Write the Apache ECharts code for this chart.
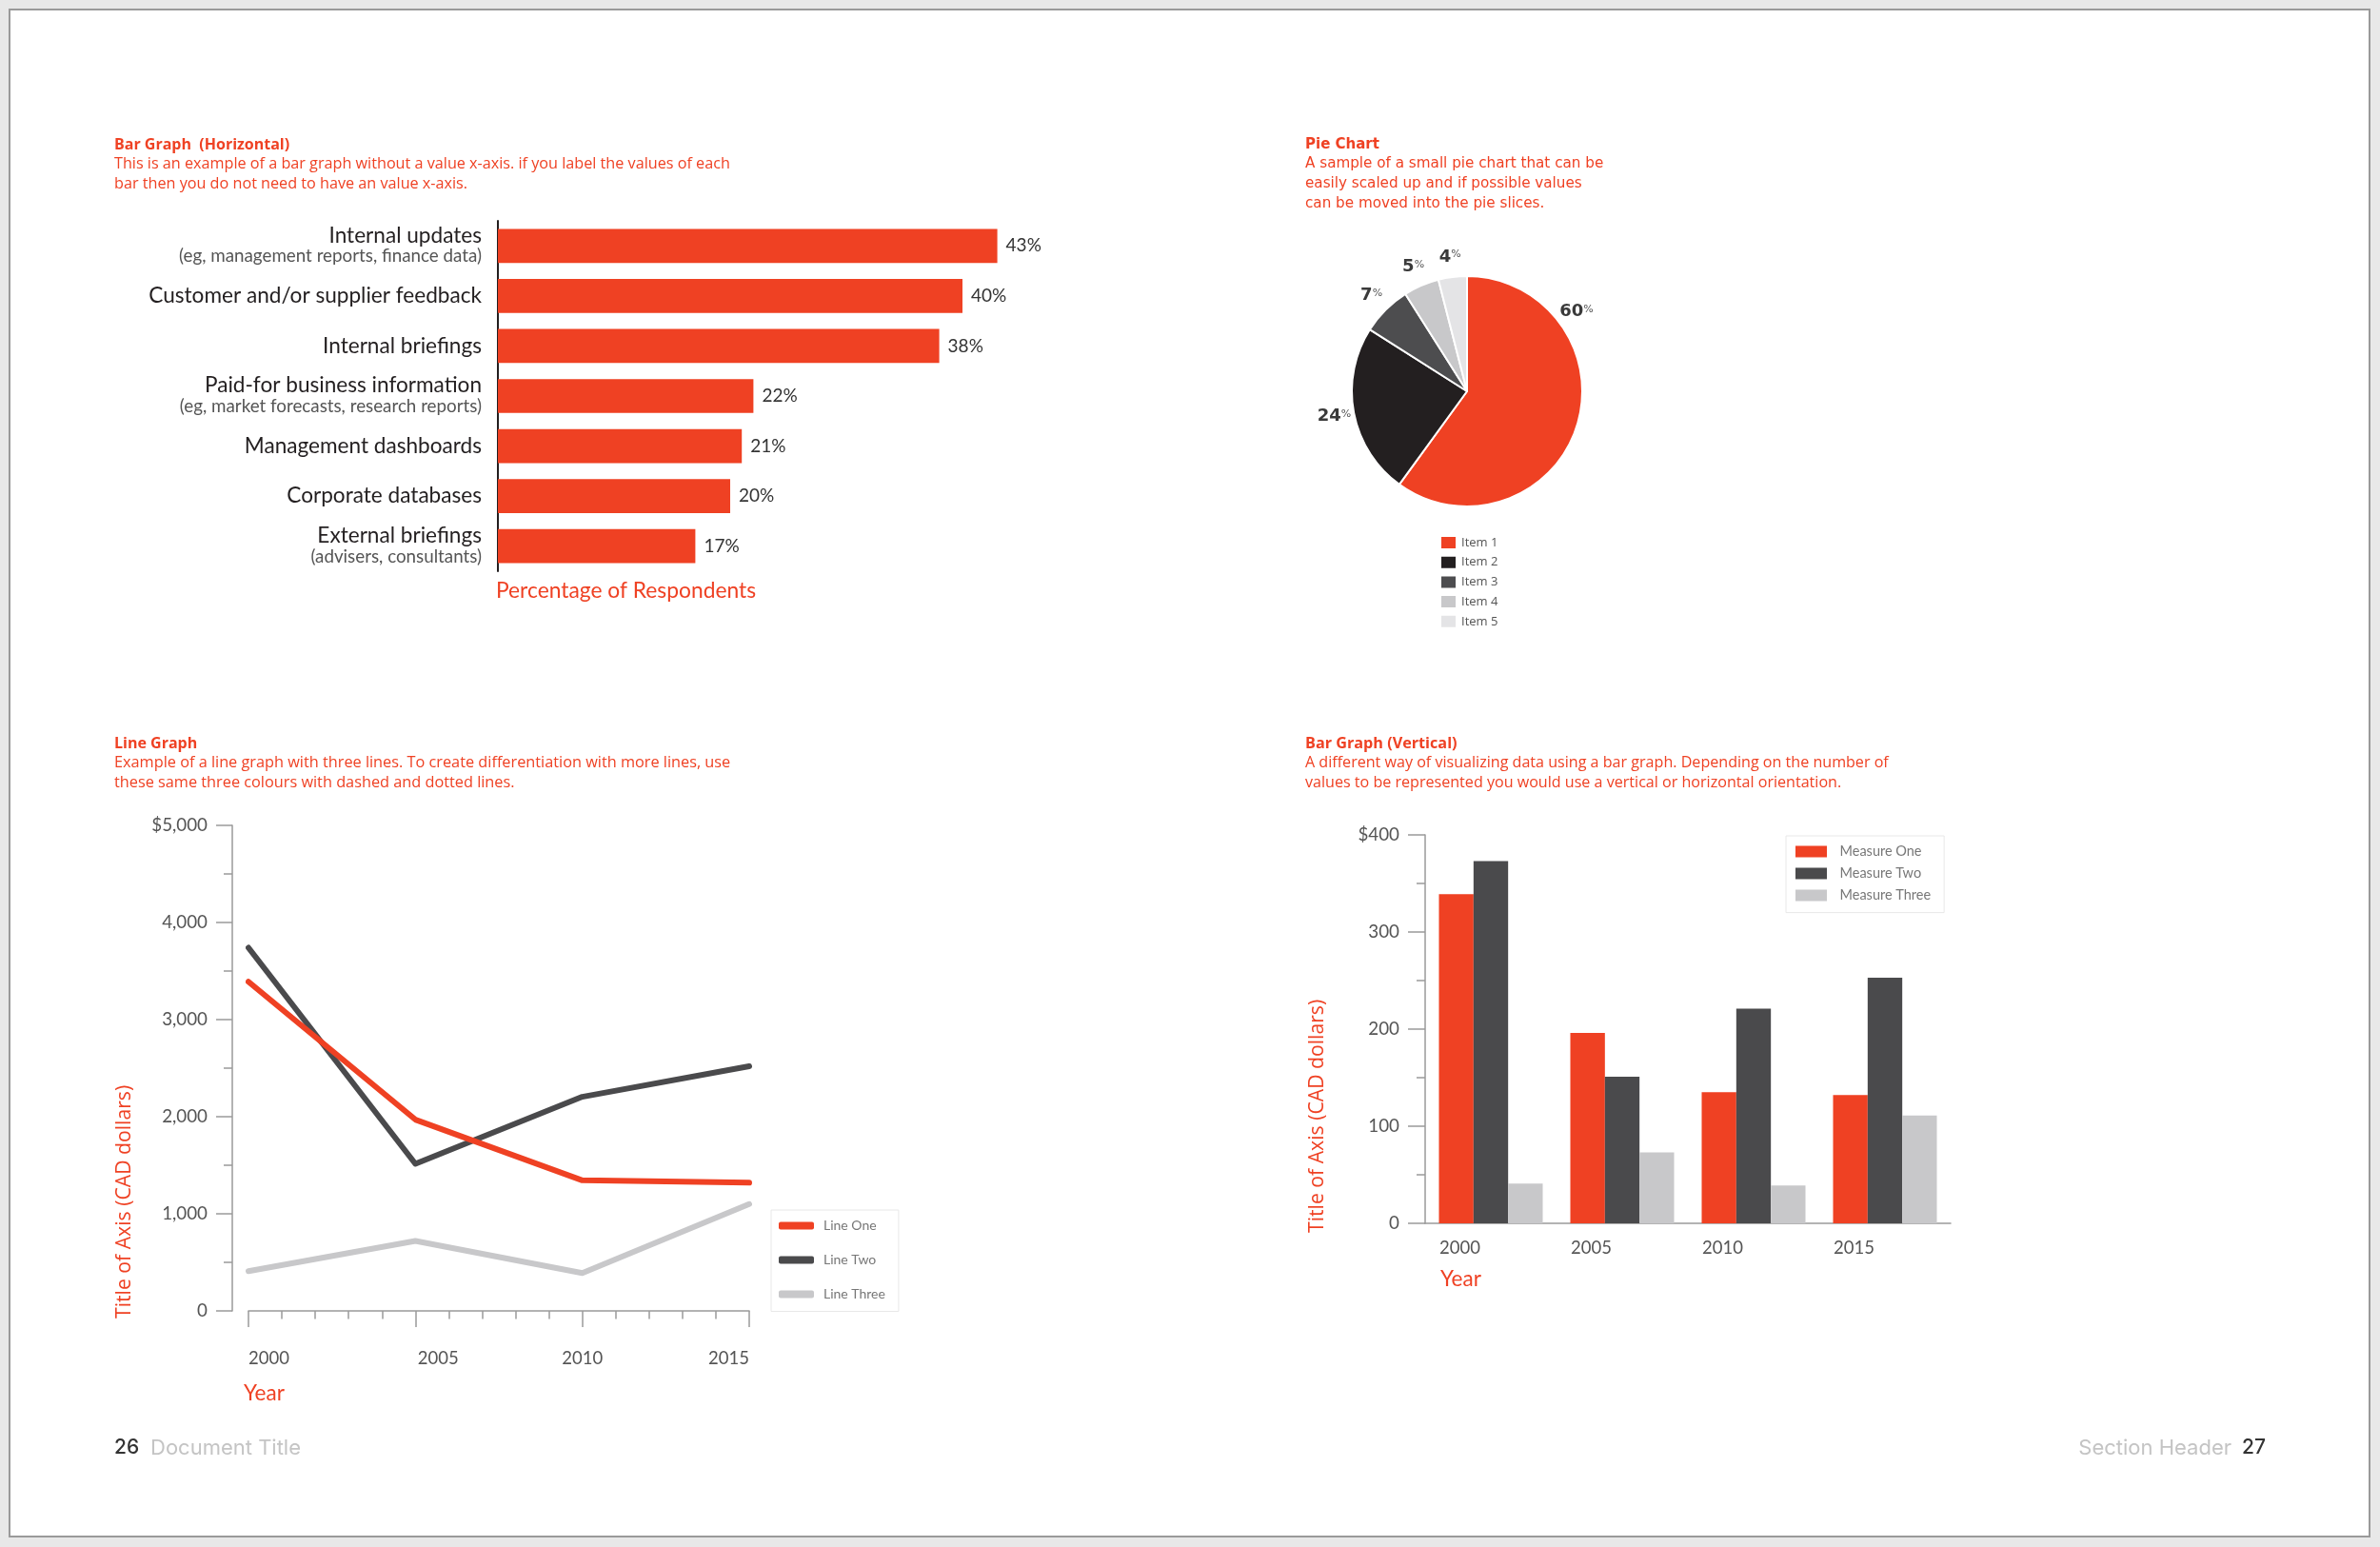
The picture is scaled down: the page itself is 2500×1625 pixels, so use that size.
<!DOCTYPE html>
<html>
<head>
<meta charset="utf-8">
<script src="https://cdn.jsdelivr.net/npm/echarts@6/dist/echarts.min.js"></script>
<style>
  html, body { margin: 0; padding: 0; background: #e8e8e8; }
  #page { position: absolute; left: 9px; top: 9px; width: 2481px; height: 1606px; box-sizing: border-box; border: 2px solid #9a9a9a; background: #ffffff; }
  #chart { position: absolute; left: 0; top: 0; width: 2500px; height: 1625px; }
</style>
</head>
<body>
<div id="page"></div>
<div id="chart"></div>
<script>
// ---------- DATA ----------
const hbarCategories = ['Internal updates', 'Customer and/or supplier feedback', 'Internal briefings', 'Paid-for business information', 'Management dashboards', 'Corporate databases', 'External briefings'];
const hbarNotes = ['(eg, management reports, finance data)', '', '', '(eg, market forecasts, research reports)', '', '', '(advisers, consultants)'];
const hbarValues = [43, 40, 38, 22, 21, 20, 17];

const pieItems = ['Item 1', 'Item 2', 'Item 3', 'Item 4', 'Item 5'];
const pieValues = [60, 24, 7, 5, 4];

const lineYears = [2000, 2005, 2010, 2015];
const lineNames = ['Line One', 'Line Two', 'Line Three'];
const lineOne = [3390, 1970, 1345, 1320];
const lineTwo = [3740, 1515, 2205, 2520];
const lineThree = [410, 720, 390, 1100];
const lineYTickLabels = ['0', '1,000', '2,000', '3,000', '4,000', '$5,000'];

const vbarYears = ['2000', '2005', '2010', '2015'];
const measureNames = ['Measure One', 'Measure Two', 'Measure Three'];
const measureOne = [339, 196, 135, 132];
const measureTwo = [373, 151, 221, 253];
const measureThree = [41, 73, 39, 111];
const vbarYTickLabels = ['0', '100', '200', '300', '$400'];

// ---------- STYLE ----------
const RED = '#EF4123';
const DARK = '#231f20';
const GREY2 = '#4a4a4c';
const GREY3 = '#c8c8ca';
const GREY4 = '#e4e4e6';
const AXIS = '#9a9a9a';
const FONT = 'Lato, "Noto Sans", sans-serif';
const FONT2 = '"Open Sans", "Noto Sans", sans-serif';
const FONT3 = '"DejaVu Sans", "Open Sans", sans-serif';

const pieCenter = [1541, 411];
const pieRadius = 121;
const pieLabelRadius = 142;
const pieFirstLabelAngle = 54; // degrees clockwise from top

const pieTotal = pieValues.reduce((a, b) => a + b, 0);
let acc = 0;
const pieMidAngles = pieValues.map(v => { const m = (acc + v / 2) / pieTotal * 360; acc += v; return m; });
pieMidAngles[0] = pieFirstLabelAngle;

const chart = echarts.init(document.getElementById('chart'), null, { renderer: 'canvas' });

function titleCfg(left, top, text, sub, fam, sz, tsz, tfam) {
  return {
    left: left, top: top, padding: 0, itemGap: 0,
    text: text, subtext: sub,
    textStyle: { fontFamily: tfam || fam, fontWeight: 'bold', fontSize: tsz, color: RED, lineHeight: 20 },
    subtextStyle: { fontFamily: fam, fontSize: sz, color: RED, lineHeight: 20.7 }
  };
}

const xLabelStyle = { fontSize: 18.5, color: '#555', fontFamily: FONT };

const option = {
  backgroundColor: 'transparent',
  animation: false,
  title: [
    titleCfg(120, 142, 'Bar Graph  (Horizontal)', 'This is an example of a bar graph without a value x-axis. if you label the values of each\nbar then you do not need to have an value x-axis.', FONT2, 16.2, 16),
    titleCfg(1371, 142, 'Pie Chart', 'A sample of a small pie chart that can be\neasily scaled up and if possible values\ncan be moved into the pie slices.', FONT3, 15.2, 15),
    titleCfg(120, 771, 'Line Graph', 'Example of a line graph with three lines. To create differentiation with more lines, use\nthese same three colours with dashed and dotted lines.', FONT2, 16.3, 16),
    titleCfg(1371, 771, 'Bar Graph (Vertical)', 'A different way of visualizing data using a bar graph. Depending on the number of\nvalues to be represented you would use a vertical or horizontal orientation.', FONT2, 16.1, 16.2)
  ],
  grid: [
    { left: 523, top: 232, width: 610, height: 368, outerBoundsMode: 'none' },
    { left: 261, top: 867, width: 526, height: 510, outerBoundsMode: 'none' },
    { left: 1497, top: 877, width: 552, height: 408, outerBoundsMode: 'none' }
  ],
  xAxis: [
    { gridIndex: 0, type: 'value', min: 0, max: 50, show: false },
    {
      gridIndex: 1, type: 'value', min: 2000, max: 2015, interval: 5, offset: 17, position: 'bottom',
      axisLine: { show: true, lineStyle: { color: AXIS, width: 1.5 } },
      axisTick: { show: true, length: 17, lineStyle: { color: AXIS, width: 1.5 } },
      minorTick: { show: true, splitNumber: 5, length: 8.5, lineStyle: { color: AXIS, width: 1.5 } },
      splitLine: { show: false }, minorSplitLine: { show: false },
      axisLabel: {
        formatter: v => (v === 2005 ? '{s|' + v + '}' : String(v)),
        rich: { s: Object.assign({ padding: [0, 0, 0, 48] }, xLabelStyle) },
        margin: 24, color: '#555', fontSize: 18.5, fontFamily: FONT, alignMinLabel: 'left', alignMaxLabel: 'right'
      }
    },
    {
      gridIndex: 2, type: 'category', data: vbarYears,
      axisLine: { show: true, lineStyle: { color: AXIS, width: 1.5 } },
      axisTick: { show: false },
      axisLabel: { align: 'right', padding: [0, 11, 0, 0], margin: 17, color: '#555', fontSize: 18.5, fontFamily: FONT }
    }
  ],
  yAxis: [
    {
      gridIndex: 0, type: 'category', data: hbarCategories, inverse: true,
      axisLine: { show: true, lineStyle: { color: DARK, width: 2 } },
      axisTick: { show: false },
      axisLabel: {
        margin: 17, align: 'right',
        formatter: function (value, index) {
          const note = hbarNotes[index];
          return note ? '{m|' + value + '}\n{s|' + note + '}' : '{m|' + value + '}';
        },
        rich: {
          m: { fontSize: 22.6, fontFamily: FONT, color: DARK, lineHeight: 22, align: 'right' },
          s: { fontSize: 18.8, fontFamily: FONT, color: '#555', lineHeight: 22, align: 'right' }
        }
      }
    },
    {
      gridIndex: 1, type: 'value', min: 0, max: 5000, interval: 1000, offset: 17,
      axisLine: { show: true, lineStyle: { color: AXIS, width: 1.5 } },
      axisTick: { show: true, length: 17, lineStyle: { color: AXIS, width: 1.5 } },
      minorTick: { show: true, splitNumber: 2, length: 9, lineStyle: { color: AXIS, width: 1.5 } },
      splitLine: { show: false }, minorSplitLine: { show: false },
      axisLabel: { formatter: v => lineYTickLabels[Math.round(v / 1000)], margin: 26, color: '#555', fontSize: 18.8, fontFamily: FONT }
    },
    {
      gridIndex: 2, type: 'value', min: 0, max: 400, interval: 100,
      axisLine: { show: true, lineStyle: { color: AXIS, width: 1.5 } },
      axisTick: { show: true, length: 18, lineStyle: { color: AXIS, width: 1.5 } },
      minorTick: { show: true, splitNumber: 2, length: 9, lineStyle: { color: AXIS, width: 1.5 } },
      splitLine: { show: false }, minorSplitLine: { show: false },
      axisLabel: { formatter: v => vbarYTickLabels[Math.round(v / 100)], margin: 27, color: '#555', fontSize: 18.8, fontFamily: FONT }
    }
  ],
  legend: [
    {
      data: pieItems, orient: 'vertical', left: 1512, top: 562, padding: 0,
      icon: 'rect', itemWidth: 17, itemHeight: 14, itemGap: 4.7, selectedMode: false,
      textStyle: { fontSize: 13, color: '#555', fontFamily: FONT2, lineHeight: 14 }
    },
    {
      data: lineNames, orient: 'vertical', left: 810, top: 1271, padding: [8.5, 14, 10, 8],
      icon: 'roundRect', itemWidth: 37, itemHeight: 8, itemGap: 20, selectedMode: false,
      borderColor: '#e8e8e8', borderWidth: 1,
      textStyle: { fontSize: 14, color: '#777', fontFamily: FONT, lineHeight: 16, padding: [0, 0, 0, 5] }
    },
    {
      data: measureNames, orient: 'vertical', left: 1876, top: 878, padding: [8.6, 14, 10, 10],
      icon: 'rect', itemWidth: 33, itemHeight: 12, itemGap: 7, selectedMode: false,
      borderColor: '#e8e8e8', borderWidth: 1,
      textStyle: { fontSize: 14.5, color: '#777', fontFamily: FONT, lineHeight: 16, padding: [0, 0, 0, 8.5] }
    }
  ],
  series: [
    {
      type: 'bar', xAxisIndex: 0, yAxisIndex: 0, data: hbarValues, barCategoryGap: '32%',
      itemStyle: { color: RED },
      label: { show: true, position: 'right', distance: 9, formatter: '{c}%', fontSize: 19, color: '#333', fontFamily: FONT }
    },
    {
      type: 'pie', center: pieCenter, radius: pieRadius, startAngle: 90, clockwise: true,
      data: pieItems.map((n, i) => ({ name: n, value: pieValues[i] })),
      color: [RED, DARK, '#4d4d4f', GREY3, GREY4],
      itemStyle: { borderColor: '#ffffff', borderWidth: 2 },
      label: {
        show: true, position: 'outside', formatter: '{v|{c}}{p|%}',
        rich: {
          v: { fontSize: 18, fontWeight: 'bold', color: '#3a3a3a', fontFamily: FONT3 },
          p: { fontSize: 11, color: '#555', fontFamily: FONT3, padding: [0, 0, 5, 0] }
        }
      },
      labelLine: { show: false },
      labelLayout: function (p) {
        const a = pieMidAngles[p.dataIndex] * Math.PI / 180;
        return {
          x: pieCenter[0] + pieLabelRadius * Math.sin(a),
          y: pieCenter[1] - pieLabelRadius * Math.cos(a),
          align: 'center', verticalAlign: 'middle'
        };
      },
      emphasis: { disabled: true }
    },
    ...[lineOne, lineTwo, lineThree].map((arr, k) => ({
      type: 'line', name: lineNames[k], xAxisIndex: 1, yAxisIndex: 1,
      data: lineYears.map((y, i) => [y, arr[i]]),
      symbol: 'none',
      color: [RED, GREY2, GREY3][k],
      lineStyle: { width: 6, cap: 'round', join: 'round', color: [RED, GREY2, GREY3][k] },
      itemStyle: { color: [RED, GREY2, GREY3][k] },
      z: 10 - k
    })),
    ...[measureOne, measureTwo, measureThree].map((arr, k) => ({
      type: 'bar', name: measureNames[k], xAxisIndex: 2, yAxisIndex: 2,
      data: arr, barGap: 0, barCategoryGap: '21%',
      itemStyle: { color: [RED, GREY2, GREY3][k] }
    }))
  ],
  graphic: [
    { type: 'text', left: 521, top: 609, style: { text: 'Percentage of Respondents', fill: RED, font: '22.8px ' + FONT } },
    { type: 'text', x: 131, y: 1385, rotation: Math.PI / 2, style: { text: 'Title of Axis (CAD dollars)', fill: RED, font: '21.2px ' + FONT2, align: 'left', verticalAlign: 'middle' } },
    { type: 'text', left: 256, top: 1452, style: { text: 'Year', fill: RED, font: '22.5px ' + FONT } },
    { type: 'text', x: 1384, y: 1295, rotation: Math.PI / 2, style: { text: 'Title of Axis (CAD dollars)', fill: RED, font: '21.2px ' + FONT2, align: 'left', verticalAlign: 'middle' } },
    { type: 'text', left: 1513, top: 1332, style: { text: 'Year', fill: RED, font: '22.5px ' + FONT } },
    { type: 'text', x: 120, y: 1521, style: { text: '26', fill: '#333', font: '500 21px Inter, sans-serif', align: 'left', verticalAlign: 'middle' } },
    { type: 'text', x: 158, y: 1521, style: { text: 'Document Title', fill: '#c4c4c4', font: '22px Inter, sans-serif', align: 'left', verticalAlign: 'middle' } },
    { type: 'text', x: 2344, y: 1521, style: { text: 'Section Header', fill: '#c4c4c4', font: '22px Inter, sans-serif', align: 'right', verticalAlign: 'middle' } },
    { type: 'text', x: 2380, y: 1521, style: { text: '27', fill: '#333', font: '500 21px Inter, sans-serif', align: 'right', verticalAlign: 'middle' } }
  ]
};
chart.setOption(option);
</script>
</body>
</html>
